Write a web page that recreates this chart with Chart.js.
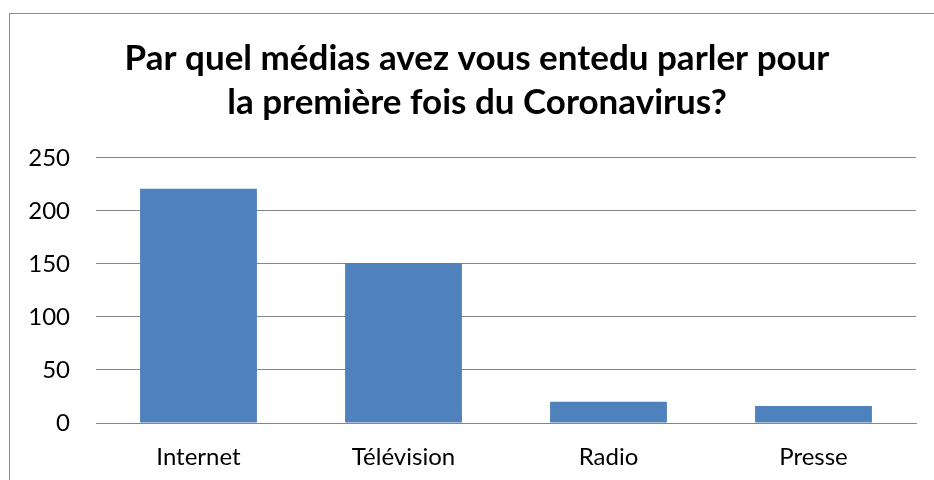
<!DOCTYPE html>
<html>
<head>
<meta charset="utf-8">
<script src="https://cdn.jsdelivr.net/npm/chart.js@4"></script>
<style>
  html, body { margin: 0; padding: 0; background: #fff; overflow: hidden; }
  #wrap { position: relative; width: 934px; height: 480px; }
  #frame { position: absolute; left: 9px; top: 13px; width: 940px; height: 480px;
           border-top: 1px solid #8c8c8c; border-left: 1px solid #8c8c8c; box-sizing: border-box; }
  canvas { position: absolute; left: 0; top: 0; }
</style>
</head>
<body>
<div id="wrap">
  <div id="frame"></div>
  <canvas id="c" width="934" height="480"></canvas>
</div>
<script>
const titleLines = ["Par quel médias avez vous entedu parler pour", "la première fois du Coronavirus?"];
const categories = ["Internet", "Télévision", "Radio", "Presse"];
const values = [221, 151, 20, 16];
const yTicks = [0, 50, 100, 150, 200, 250];

const shiftTitle = {
  id: 'shiftTitle',
  afterLayout(chart) {
    const t = chart.titleBlock;
    if (t) { t.left += 9; t.right += 9; }
  }
};

new Chart(document.getElementById('c'), {
  type: 'bar',
  data: {
    labels: categories,
    datasets: [{ data: values, backgroundColor: '#4F81BD', borderWidth: 0,
                 barPercentage: 0.57, categoryPercentage: 1.0 }]
  },
  plugins: [shiftTitle],
  options: {
    responsive: false,
    animation: false,
    layout: { padding: { left: 20, right: 18, top: 0, bottom: 0 } },
    plugins: {
      legend: { display: false },
      tooltip: { enabled: false },
      title: {
        display: true,
        text: titleLines,
        color: '#000',
        font: { family: 'Lato', weight: 'bold', size: 35, lineHeight: 1.257 },
        padding: { top: 37, bottom: 33 }
      }
    },
    scales: {
      x: {
        afterFit: (axis) => { axis.height = 57; },
        grid: { display: false, drawTicks: false },
        border: { display: true, color: '#868686', width: 1 },
        ticks: { color: '#000', font: { family: 'Lato', size: 24 }, padding: 20 }
      },
      y: {
        min: 0, max: 250,
        afterBuildTicks: (axis) => { axis.ticks = yTicks.map(v => ({ value: v })); },
        afterFit: (axis) => { axis.width = 76; },
        grid: { color: '#868686', lineWidth: 1, drawTicks: false },
        border: { display: false },
        ticks: { color: '#000', font: { family: 'Lato', size: 24 }, padding: 26 }
      }
    }
  }
});
</script>
</body>
</html>
